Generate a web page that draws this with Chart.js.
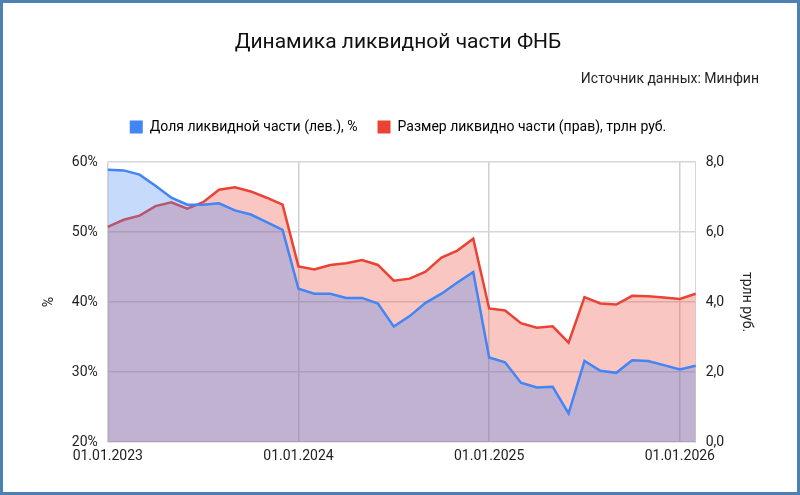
<!DOCTYPE html>
<html><head><meta charset="utf-8">
<script src="https://cdn.jsdelivr.net/npm/chart.js@4"></script>
<style>
html,body{margin:0;padding:0;background:#fff;}
#wrap{position:absolute;left:0;top:0;width:794px;height:489px;border:3px solid #4d80b3;}
</style></head><body>
<div id="wrap"><canvas id="c" width="794" height="489"></canvas></div>
<script>
const labels = [];
for (let y = 2023; y <= 2026; y++) for (let m = 1; m <= 12; m++) {
  if (labels.length < 38) labels.push('01.' + String(m).padStart(2,'0') + '.' + y);
}
const shareLiquid = [58.9,58.8,58.2,56.6,54.9,53.9,53.9,54.1,53.1,52.5,51.4,50.3,
  41.9,41.2,41.2,40.6,40.6,39.8,36.5,38.0,39.9,41.2,42.8,44.3,
  32.1,31.4,28.5,27.8,27.9,24.1,31.6,30.2,29.9,31.7,31.6,31.0,30.4,30.9];
const sizeLiquid = [6.15,6.35,6.47,6.74,6.85,6.67,6.85,7.21,7.28,7.16,6.98,6.78,
  5.02,4.93,5.06,5.11,5.20,5.06,4.61,4.67,4.87,5.27,5.47,5.81,
  3.82,3.76,3.40,3.27,3.31,2.84,4.14,3.96,3.93,4.18,4.17,4.13,4.09,4.24];
const leftTicks = [20,30,40,50,60];
const rightTicks = [0,2,4,6,8];
const font = {family:'Roboto', size:14};
Chart.defaults.font.family = 'Roboto';
Chart.defaults.color = '#222';
const isYear = (i) => labels[i] && labels[i].startsWith('01.01.');
const legendPad = {id:'legendPad', beforeInit(ch){
  const f = ch.legend.fit;
  ch.legend.fit = function(){ f.call(this); this.height += 18; };
}};
new Chart(document.getElementById('c'), {
  type:'line',
  data:{labels, datasets:[
    {label:'Доля ликвидной части (лев.), %', data:shareLiquid, yAxisID:'y',
     borderColor:'#4285f4', backgroundColor:'rgba(66,133,244,0.3)', fill:'origin',
     borderWidth:2.5, pointRadius:0, tension:0, order:1},
    {label:'Размер ликвидно части (прав), трлн руб.', data:sizeLiquid, yAxisID:'y1',
     borderColor:'#ea4335', backgroundColor:'rgba(234,67,53,0.3)', fill:'origin',
     borderWidth:2.5, pointRadius:0, tension:0, order:2}
  ]},
  plugins:[legendPad],
  options:{
    responsive:false, animation:false,
    layout:{padding:{left:34,right:38,top:0,bottom:21}},
    plugins:{
      title:{display:true, text:'Динамика ликвидной части ФНБ', font:{family:'Roboto',size:21,weight:'normal'}, color:'#111', padding:{top:27,bottom:8}},
      subtitle:{display:true, text:'Источник данных: Минфин', align:'end', font:{family:'Roboto',size:14}, color:'#222', padding:{top:8,bottom:12}},
      legend:{labels:{boxWidth:13, boxHeight:13, font:{family:'Roboto',size:14}, color:'#222', padding:20,
        generateLabels:(ch)=>ch.data.datasets.map((d,i)=>({text:d.label, fillStyle:d.borderColor, strokeStyle:d.borderColor, lineWidth:0, datasetIndex:i}))}},
      tooltip:{enabled:false}
    },
    scales:{
      x:{offset:false, grid:{color:(c)=>isYear(c.index)?'#d0d0d0':'rgba(0,0,0,0)', drawTicks:false, lineWidth:1.5},
        border:{display:false},
        ticks:{autoSkip:false, maxRotation:0, padding:6, font, color:'#222',
          callback:(v,i)=>isYear(i)?labels[i]:''}},
      y:{position:'left', min:20, max:60, afterBuildTicks:(a)=>{a.ticks=leftTicks.map(v=>({value:v}));},
        grid:{color:'#d6d6d6', drawTicks:false, lineWidth:1.5}, border:{display:true, color:'#d6d6d6'},
        ticks:{font, color:'#222', padding:10, callback:v=>v+'%'},
        title:{display:true, text:'%', font, color:'#222'}},
      y1:{position:'right', min:0, max:8, afterBuildTicks:(a)=>{a.ticks=rightTicks.map(v=>({value:v}));},
        grid:{display:false, drawTicks:false}, border:{display:true, color:'#d6d6d6'},
        ticks:{font, color:'#222', padding:10, callback:v=>v.toFixed(1).replace('.',',')},
        title:{display:true, text:'трлн руб.', font, color:'#222'}}
    }
  }
});
</script></body></html>
